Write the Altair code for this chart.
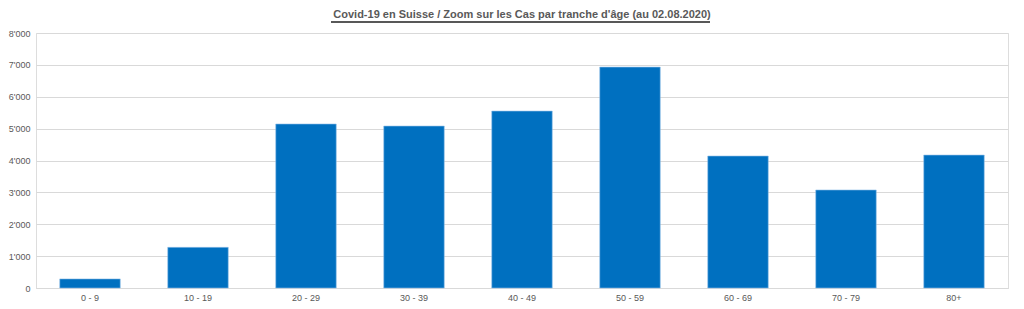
import altair as alt
import pandas as pd

categories = ["0 - 9", "10 - 19", "20 - 29", "30 - 39", "40 - 49", "50 - 59", "60 - 69", "70 - 79", "80+"]
cases = [285, 1275, 5145, 5080, 5550, 6930, 4140, 3075, 4170]

df = pd.DataFrame({"age": categories, "cases": cases})

W = 972
H = 255
FONT = "Liberation Sans"

bars = alt.Chart(df).mark_bar(color="#0070c0", stroke="#8fbde8", strokeWidth=0.6).encode(
    x=alt.X("age:N", sort=categories, title=None,
            scale=alt.Scale(paddingInner=0.44, paddingOuter=0.22),
            axis=alt.Axis(labelAngle=0, labelColor="#595959", labelFont=FONT, labelFontSize=9,
                          ticks=False, domainColor="#d9d9d9", labelPadding=5)),
    y=alt.Y("cases:Q", title=None,
            scale=alt.Scale(domain=[0, 8000], nice=False),
            axis=alt.Axis(values=list(range(0, 8001, 1000)),
                          labelExpr="replace(format(datum.value, ','), ',', \"'\")",
                          labelColor="#595959", labelFont=FONT, labelFontSize=9,
                          ticks=False, domain=False, gridColor="#d9d9d9", labelPadding=6)),
)

underline = alt.Chart(df).mark_rule(color="#595959", strokeWidth=1).encode(
    x=alt.value(295), x2=alt.value(674), y=alt.value(-11)
)

chart = alt.layer(bars, underline).properties(
    width=W, height=H,
    title=alt.TitleParams("Covid-19 en Suisse / Zoom  sur les Cas par tranche d'âge (au 02.08.2020)",
                          font=FONT, fontSize=11, fontWeight="bold", color="#595959", offset=2),
    padding={"left": 0, "top": 0, "right": 5, "bottom": 0},
).configure_view(stroke=None).configure(background="white")

chart.save("out.html", embed_options={"renderer": "svg", "actions": False})
